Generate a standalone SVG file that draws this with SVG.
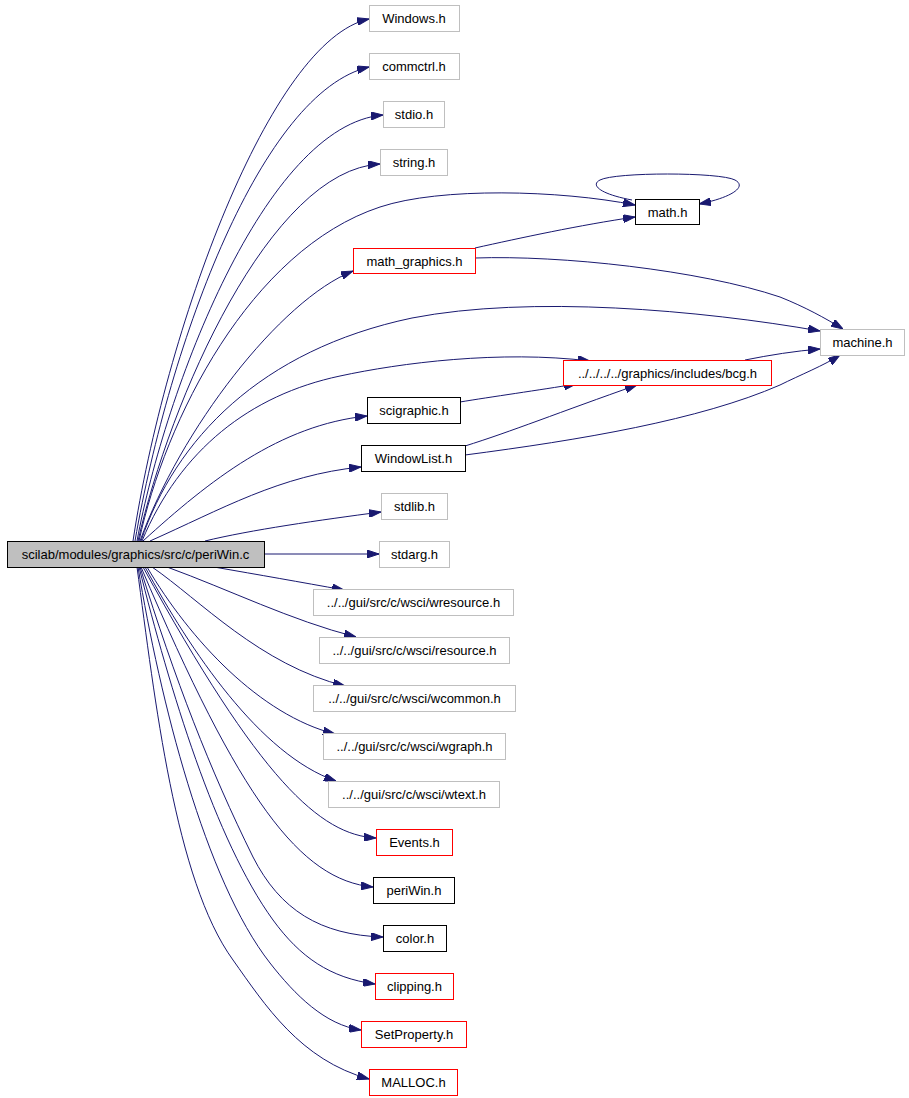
<svg xmlns="http://www.w3.org/2000/svg" width="909" height="1098" viewBox="0 0 909 1098">
<style>
.n rect{fill:#fff;stroke-width:1}
.g rect{stroke:#bfbfbf}
.r rect{stroke:#ff0000}
.b rect{stroke:#000}
.root rect{fill:#bfbfbf;stroke:#000}
text{font-family:"Liberation Sans",Arial,sans-serif;font-size:13px;fill:#000;text-anchor:middle}
#edges path{fill:none;stroke:#191970;stroke-width:1;marker-end:url(#ah)}
</style>
<defs>
<marker id="ah" markerUnits="userSpaceOnUse" markerWidth="12" markerHeight="8" refX="12" refY="4" orient="auto">
<path d="M0,0 L12,4 L0,8 z" fill="#191970" stroke="#191970" stroke-width="1"/>
</marker>
</defs>
<rect width="909" height="1098" fill="#fff"/>
<g id="edges">
<path d="M133,541 C165,330 270,40 369,19"/>
<path d="M135,541 C170,340 262,92 369,67"/>
<path d="M137,541 C165,390 265,125 383,115"/>
<path d="M138,541 C170,400 270,170 380,164"/>
<path d="M139,541 C165,420 250,250 380,207 C440,187 560,190 635,205"/>
<path d="M140,541 C180,430 280,300 353,271"/>
<path d="M141,541 C175,440 260,350 412,318 C530,295 700,310 820,331"/>
<path d="M142,541 C180,450 250,395 340,376 C400,363 500,350 590,361"/>
<path d="M143,541 C210,480 280,425 367,416"/>
<path d="M150,541 C220,510 280,475 361,467"/>
<path d="M205,541 C250,530 320,520 381,512"/>
<path d="M264,554 L379,554"/>
<path d="M214,567 C260,575 300,582 344,590"/>
<path d="M167,567 C230,590 290,620 356,637"/>
<path d="M152,567 C200,600 260,665 345,686"/>
<path d="M147,567 C190,640 260,715 335,734"/>
<path d="M145,567 C190,650 260,755 336,781"/>
<path d="M143,567 C260,780 320,835 376,838"/>
<path d="M141,567 C240,800 300,880 373,887"/>
<path d="M140,567 C175,680 210,770 253,857 C280,910 320,935 383,937"/>
<path d="M139,567 C170,690 215,840 273,920 C300,957 330,978 375,984"/>
<path d="M138,567 C160,700 205,880 270,963 C295,995 325,1025 361,1030"/>
<path d="M137,567 C155,700 175,880 233,960 C265,1005 300,1060 369,1079"/>
<path d="M475,248 C520,238 580,225 635,217"/>
<path d="M475,258 C560,255 700,270 780,297 C805,307 825,318 843,329"/>
<path d="M632,200 C600,194 590,185 600,180 C615,172 720,172 735,180 C748,187 730,198 699,204"/>
<path d="M745,360 C770,355 795,351 820,349"/>
<path d="M460,402 C490,397 540,390 576,384"/>
<path d="M465,446 C510,432 560,412 637,385"/>
<path d="M465,455 C580,440 700,420 780,385 C800,375 825,365 840,355"/>
</g>
<g id="n_periwin_c" class="n root"><rect x="7.5" y="541.5" width="257" height="26"/><text x="135.5" y="558.5">scilab/modules/graphics/src/c/periWin.c</text></g>
<g id="n_windows" class="n g"><rect x="369.5" y="5.5" width="90" height="26"/><text x="414" y="22.5">Windows.h</text></g>
<g id="n_commctrl" class="n g"><rect x="369.5" y="53.5" width="90" height="26"/><text x="414" y="70.5">commctrl.h</text></g>
<g id="n_stdio" class="n g"><rect x="383.5" y="101.5" width="61" height="26"/><text x="414" y="118.5">stdio.h</text></g>
<g id="n_string" class="n g"><rect x="380.5" y="149.5" width="67" height="26"/><text x="414" y="166.5">string.h</text></g>
<g id="n_math" class="n b"><rect x="635.5" y="199.5" width="64" height="25"/><text x="667.5" y="216.5">math.h</text></g>
<g id="n_math_graphics" class="n r"><rect x="353.5" y="248.5" width="122" height="25"/><text x="414.5" y="265.5">math_graphics.h</text></g>
<g id="n_machine" class="n g"><rect x="820.5" y="329.5" width="84" height="26"/><text x="862.5" y="346.5">machine.h</text></g>
<g id="n_bcg" class="n r"><rect x="563.5" y="360.5" width="208" height="25"/><text x="667.5" y="377.5">../../../../graphics/includes/bcg.h</text></g>
<g id="n_scigraphic" class="n b"><rect x="367.5" y="397.5" width="93" height="26"/><text x="414" y="414.5">scigraphic.h</text></g>
<g id="n_windowlist" class="n b"><rect x="361.5" y="445.5" width="104" height="26"/><text x="413.5" y="462.5">WindowList.h</text></g>
<g id="n_stdlib" class="n g"><rect x="381.5" y="493.5" width="66" height="26"/><text x="414.5" y="510.5">stdlib.h</text></g>
<g id="n_stdarg" class="n g"><rect x="379.5" y="541.5" width="70" height="26"/><text x="414.5" y="558.5">stdarg.h</text></g>
<g id="n_wresource" class="n g"><rect x="313.5" y="589.5" width="200" height="26"/><text x="413.5" y="606.5">../../gui/src/c/wsci/wresource.h</text></g>
<g id="n_resource" class="n g"><rect x="319.5" y="637.5" width="190" height="26"/><text x="414.5" y="654.5">../../gui/src/c/wsci/resource.h</text></g>
<g id="n_wcommon" class="n g"><rect x="313.5" y="685.5" width="202" height="26"/><text x="414.5" y="702.5">../../gui/src/c/wsci/wcommon.h</text></g>
<g id="n_wgraph" class="n g"><rect x="323.5" y="733.5" width="182" height="26"/><text x="414.5" y="750.5">../../gui/src/c/wsci/wgraph.h</text></g>
<g id="n_wtext" class="n g"><rect x="328.5" y="781.5" width="171" height="26"/><text x="414" y="798.5">../../gui/src/c/wsci/wtext.h</text></g>
<g id="n_events" class="n r"><rect x="376.5" y="829.5" width="76" height="26"/><text x="414.5" y="846.5">Events.h</text></g>
<g id="n_periwin_h" class="n b"><rect x="373.5" y="877.5" width="81" height="26"/><text x="414" y="894.5">periWin.h</text></g>
<g id="n_color" class="n b"><rect x="383.5" y="925.5" width="63" height="26"/><text x="415" y="942.5">color.h</text></g>
<g id="n_clipping" class="n r"><rect x="375.5" y="973.5" width="78" height="26"/><text x="414.5" y="990.5">clipping.h</text></g>
<g id="n_setproperty" class="n r"><rect x="361.5" y="1021.5" width="105" height="26"/><text x="414" y="1038.5">SetProperty.h</text></g>
<g id="n_malloc" class="n r"><rect x="369.5" y="1069.5" width="88" height="26"/><text x="413.5" y="1086.5">MALLOC.h</text></g>
</svg>
